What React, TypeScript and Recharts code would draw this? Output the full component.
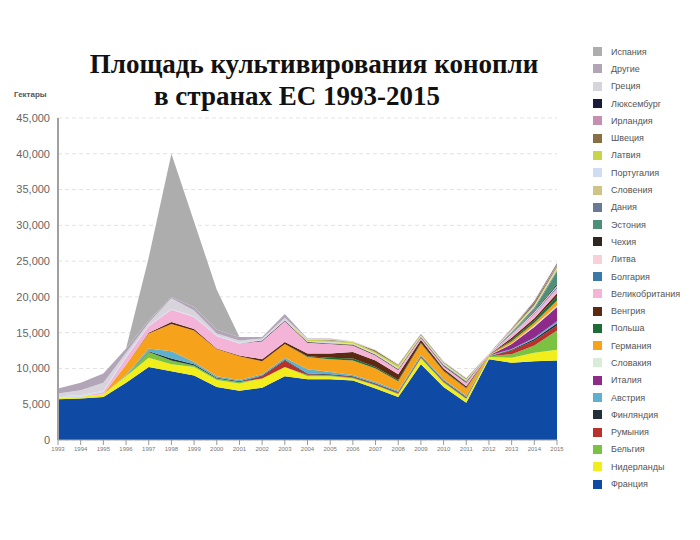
import React from 'react';
import { AreaChart, Area, XAxis, YAxis, CartesianGrid } from 'recharts';

const years = ['1993','1994','1995','1996','1997','1998','1999','2000','2001','2002','2003','2004','2005','2006','2007','2008','2009','2010','2011','2012','2013','2014','2015'];
const yTicks = [0, 5000, 10000, 15000, 20000, 25000, 30000, 35000, 40000, 45000];

// bottom -> top of stack
const france = [5700,5800,6000,8000,10200,9600,9000,7400,6900,7300,8900,8500,8500,8300,7200,6000,10600,7400,5200,11300,10800,11000,11100];
const netherlands = [200,250,400,900,1300,1000,1200,1000,1000,1300,1300,400,400,300,400,400,800,600,500,300,700,1200,1500];
const belgium = [0,0,0,100,800,500,200,200,200,0,0,200,100,100,100,100,100,100,100,100,500,1000,2700];
const romania = [0,0,0,0,0,0,0,0,0,300,900,100,100,100,100,100,100,100,100,0,500,700,700];
const finland = [0,0,0,0,100,300,200,100,100,100,100,100,100,100,100,100,100,100,100,0,100,200,300];
const austria = [0,0,0,100,400,1000,300,200,200,200,300,600,300,200,200,200,200,200,200,100,100,200,300];
const italy = [0,0,0,0,0,0,0,0,0,0,0,0,0,0,0,0,0,0,0,0,700,1500,2000];
const slovakia = [0,0,0,0,0,0,0,0,0,0,0,0,0,0,0,0,0,0,0,0,100,200,200];
const germany = [0,0,0,1400,2100,3800,4400,3800,3300,1800,1900,1700,1800,2000,1900,1300,1600,1100,1000,100,300,400,700];
const poland = [0,0,0,0,0,0,0,0,0,0,0,100,200,300,200,200,100,100,100,0,200,300,600];
const hungary = [0,0,0,0,100,300,200,100,100,300,300,400,600,900,900,800,400,300,200,0,300,300,400];
const uk = [0,0,300,1000,900,1700,1700,1700,1700,2500,2900,1500,1300,900,700,600,300,300,500,100,400,600,700];
const bulgaria = [0,0,0,0,0,0,0,0,0,0,0,0,0,0,0,0,0,0,0,0,0,100,200];
const lithuania = [0,0,0,0,0,0,0,0,0,0,0,0,0,0,0,0,0,0,0,0,100,200,200];
const czechia = [0,0,0,0,0,0,0,0,0,100,100,100,100,100,100,100,100,100,100,0,100,100,200];
const estonia = [0,0,0,0,0,0,0,0,0,0,0,0,0,0,0,0,0,100,100,0,100,300,1700];
const denmark = [0,0,0,0,0,0,0,0,0,0,0,0,0,0,0,0,0,0,0,0,100,200,200];
const slovenia = [0,0,0,0,0,0,0,0,0,0,0,0,100,100,100,100,100,100,100,0,100,100,200];
const portugal = [200,200,200,200,100,100,100,100,100,100,100,100,100,100,100,100,100,100,100,100,100,100,100];
const latvia = [0,0,0,0,0,0,0,0,0,0,0,200,200,200,200,300,100,100,100,0,100,200,200];
const sweden = [0,0,0,0,0,0,0,0,0,0,0,0,100,0,200,100,100,100,100,0,100,300,200];
const ireland = [0,0,0,0,0,0,0,0,0,0,0,0,0,0,0,0,0,0,0,0,100,100,200];
const luxembourg = [0,0,0,0,0,0,0,0,0,0,0,0,0,0,0,0,0,0,0,0,0,100,100];
const greece = [400,700,1100,500,400,1500,800,300,300,200,300,100,100,100,100,100,100,100,100,0,100,100,100];
const others = [700,1050,1300,600,300,200,500,500,500,200,500,100,100,0,0,0,0,0,0,0,0,0,0];
const spain = [0,0,0,0,8800,20000,11900,5600,0,0,0,0,0,0,0,0,0,0,0,0,0,0,0];

const seriesList = [
  { name: 'Франция', color: '#0f4aa4', data: france },
  { name: 'Нидерланды', color: '#f2ee1c', data: netherlands },
  { name: 'Бельгия', color: '#7cc242', data: belgium },
  { name: 'Румыния', color: '#b8312a', data: romania },
  { name: 'Финляндия', color: '#22303a', data: finland },
  { name: 'Австрия', color: '#5fb0cc', data: austria },
  { name: 'Италия', color: '#8e2b8a', data: italy },
  { name: 'Словакия', color: '#d8ecd8', data: slovakia },
  { name: 'Германия', color: '#f7a21b', data: germany },
  { name: 'Польша', color: '#1d6b35', data: poland },
  { name: 'Венгрия', color: '#5c2a12', data: hungary },
  { name: 'Великобритания', color: '#f4b4d8', data: uk },
  { name: 'Болгария', color: '#3a78a8', data: bulgaria },
  { name: 'Литва', color: '#f8d0d8', data: lithuania },
  { name: 'Чехия', color: '#2e2620', data: czechia },
  { name: 'Эстония', color: '#4f8f78', data: estonia },
  { name: 'Дания', color: '#6a7a94', data: denmark },
  { name: 'Словения', color: '#cdc486', data: slovenia },
  { name: 'Португалия', color: '#cfdcf2', data: portugal },
  { name: 'Латвия', color: '#c8d44a', data: latvia },
  { name: 'Швеция', color: '#8a6f45', data: sweden },
  { name: 'Ирландия', color: '#c58fb0', data: ireland },
  { name: 'Люксембург', color: '#1a1a3a', data: luxembourg },
  { name: 'Греция', color: '#d8d4dc', data: greece },
  { name: 'Другие', color: '#b3a5b8', data: others },
  { name: 'Испания', color: '#adadad', data: spain },
];

const tableData = years.map((year, i) => {
  const row: Record<string, string | number> = { year };
  seriesList.forEach((s) => { row[s.name] = s.data[i]; });
  return row;
});

const fmt = (v: number) => (v === 0 ? '0' : v.toLocaleString('en-US'));

export default function App() {
  const legendItems = [...seriesList].reverse();
  return (
    <div style={{ position: 'absolute', left: 0, top: 0, width: 700, height: 540, background: '#fff', fontFamily: '"Liberation Sans", Arial, sans-serif' }}>
      <div style={{ position: 'absolute', left: 0, width: 628, top: 48, textAlign: 'center', fontFamily: '"Liberation Serif", "Times New Roman", serif', fontWeight: 'bold', fontSize: 27, lineHeight: '32px', color: '#111' }}>
        Площадь культивирования конопли
      </div>
      <div style={{ position: 'absolute', left: 0, width: 594, top: 80, textAlign: 'center', fontFamily: '"Liberation Serif", "Times New Roman", serif', fontWeight: 'bold', fontSize: 27, lineHeight: '32px', color: '#111' }}>
        в странах ЕС 1993-2015
      </div>
      <div style={{ position: 'absolute', left: 14, top: 90, fontSize: 8, fontWeight: 'bold', color: '#555' }}>Гектары</div>
      <AreaChart width={700} height={540} data={tableData} margin={{ top: 118, right: 143, bottom: 70, left: 0 }}>
        <CartesianGrid vertical={false} stroke="#e2e2e2" strokeDasharray="4 3" />
        <XAxis dataKey="year" interval={0} tick={{ fontSize: 6, fill: '#777' }} tickLine={{ stroke: '#999' }} axisLine={{ stroke: '#aaa' }} tickSize={5} />
        <YAxis width={58} domain={[0, 45000]} ticks={yTicks} tickFormatter={fmt} tick={{ fontSize: 11, fill: '#666' }} axisLine={{ stroke: '#a0a0a0', strokeWidth: 2 }} tickLine={false} />
        {seriesList.map((s) => (
          <Area key={s.name} type="linear" dataKey={s.name} stackId="1" stroke="none" fill={s.color} fillOpacity={1} isAnimationActive={false} />
        ))}
      </AreaChart>
      <div style={{ position: 'absolute', left: 593, top: 43 }}>
        {legendItems.map((s) => (
          <div key={s.name} style={{ display: 'flex', alignItems: 'center', height: 17.3 }}>
            <span style={{ display: 'inline-block', width: 9, height: 9, background: s.color, marginRight: 9 }} />
            <span style={{ fontSize: 9, color: '#555', whiteSpace: 'nowrap' }}>{s.name}</span>
          </div>
        ))}
      </div>
    </div>
  );
}
